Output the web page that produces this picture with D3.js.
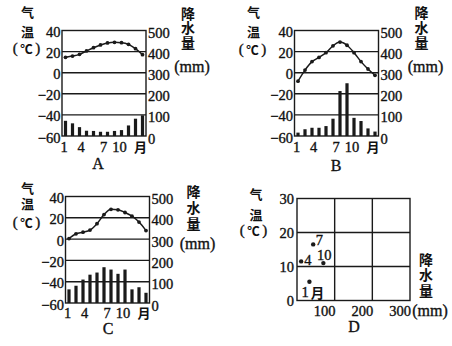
<!DOCTYPE html>
<html><head><meta charset="utf-8">
<script src="https://cdn.jsdelivr.net/npm/d3@7/dist/d3.min.js"></script>
<style>
html,body{margin:0;padding:0;background:#fff;}
svg text{fill:#111;}
.num{font-family:"Liberation Serif","DejaVu Serif",serif;stroke:#111;stroke-width:0.35px;}
.cjk{font-family:"Noto Sans CJK SC","Noto Sans CJK JP",sans-serif;}
</style></head>
<body>
<svg id="c" width="452" height="346"></svg>
<script>
// ---------------- data ----------------
const months = [1,2,3,4,5,6,7,8,9,10,11,12];
const monthTicks = [1,4,7,10,12];
const monthTickLabels = ["1","4","7","10","月"];
const tempTicks = [40,20,0,-20,-40,-60];
const precTicks = [500,400,300,200,100,0];

const tempA = [14.6,15.8,17.4,20.6,23.7,26.3,28.2,28.8,28.5,26.9,22.8,17.1];
const precA = [72,60,42,25,24,20,20,24,28,50,82,98];

const tempB = [-8,2.5,10.5,14.5,19,25.5,29,26,19,10.5,3.5,-2.5];
const precB = [16,32,39,39,47,82,213,250,86,71,36,21];

const tempC = [0.5,5,6.5,8.5,14.5,23,28,27.5,25,21.5,16,8];
const precC = [64,81,110,133,143,168,157,137,157,64,74,48];

const dLabels = ["1月","4","7","10"];
const dPrecip = [33,11,43,70];
const dTemp = [5.5,11.5,16.5,11];
const dXTicks = [100,200,300];
const dYTicks = [0,10,20,30];

// ---------------- layout ----------------
const svg = d3.select("#c");
const INK = "#1a1a1a";
const tickDx = {1:-1.5,4:-5.5,7:-4,10:-9,12:-2};
const NUM = 14.5;

function vtext(g, str, x, yFirst, size, step){
  g.append("text").attr("class","cjk").attr("x",x).attr("y",yFirst - size/2)
    .attr("writing-mode","vertical-rl").attr("text-anchor","start")
    .attr("font-size",size).attr("font-weight",700)
    .attr("letter-spacing",step-size).text(str);
}
function celsius(g, x, y){
  const t = g.append("text").attr("x",x).attr("y",y)
    .attr("text-anchor","middle").attr("dominant-baseline","central");
  t.append("tspan").attr("class","num").attr("font-size",15).text("(");
  t.append("tspan").attr("class","cjk").attr("font-size",12.5).attr("font-weight",700).attr("dx",2.5).text("\u2103");
  t.append("tspan").attr("class","num").attr("font-size",15).attr("dx",2.5).text(")");
}

function climate(p){
  const g = svg.append("g");
  const x = d3.scaleBand().domain(months).range([p.x0,p.x0+p.w]);
  const yT = d3.scaleLinear().domain([-60,40]).range([p.y0+p.h,p.y0]);
  const yP = d3.scaleLinear().domain([0,500]).range([p.y0+p.h,p.y0]);
  const bw = x.bandwidth();
  g.selectAll("rect.bar").data(p.prec).join("rect")
    .attr("x",(d,i)=>x(months[i])+bw/2-1.6).attr("width",3.2)
    .attr("y",d=>yP(d)).attr("height",d=>yP(0)-yP(d)).attr("fill",INK);
  g.selectAll("line.grid").data(tempTicks.slice(1,-1)).join("line")
    .attr("x1",p.x0).attr("x2",p.x0+p.w).attr("y1",d=>yT(d)).attr("y2",d=>yT(d))
    .attr("stroke",INK).attr("stroke-width",1.4);
  g.append("rect").attr("x",p.x0).attr("y",p.y0).attr("width",p.w).attr("height",p.h)
    .attr("fill","none").attr("stroke",INK).attr("stroke-width",1.4);
  const line = d3.line().x((d,i)=>x(months[i])+bw/2).y(d=>yT(d)).curve(d3.curveMonotoneX);
  g.append("path").attr("d",line(p.temp)).attr("fill","none").attr("stroke",INK).attr("stroke-width",1.5);
  g.selectAll("circle").data(p.temp).join("circle")
    .attr("cx",(d,i)=>x(months[i])+bw/2).attr("cy",d=>yT(d)).attr("r",1.9).attr("fill",INK);
  g.selectAll("text.lt").data(tempTicks).join("text").attr("class","num")
    .attr("x",p.x0-1.5).attr("y",d=>yT(d)+1.5).attr("text-anchor","end")
    .attr("dominant-baseline","central").attr("font-size",NUM)
    .text(d=>d<0?"\u2212"+Math.abs(d):d);
  g.selectAll("text.rt").data(precTicks).join("text").attr("class","num")
    .attr("x",p.x0+p.w+2).attr("y",d=>yP(d)+2.5).attr("text-anchor","start")
    .attr("dominant-baseline","central").attr("font-size",NUM).text(d=>d);
  g.selectAll("text.mt").data(monthTicks).join("text")
    .attr("class",(d,i)=>monthTickLabels[i]==="月"?"cjk":"num")
    .attr("x",d=>x(d)+bw/2+tickDx[d]).attr("y",p.y0+p.h+p.mty)
    .attr("text-anchor","middle").attr("dominant-baseline","central")
    .attr("font-size",(d,i)=>monthTickLabels[i]==="月"?13:NUM)
    .attr("font-weight",(d,i)=>monthTickLabels[i]==="月"?700:400)
    .text((d,i)=>monthTickLabels[i]);
  vtext(g,"气温",p.lx,p.ly[0],13,p.ly[1]-p.ly[0]);
  celsius(g,p.lx-1,p.ly[2]);
  vtext(g,"降水量",p.rx,p.ry[0],14,p.ry[1]-p.ry[0]);
  g.append("text").attr("class","num").attr("x",p.rx+4).attr("y",p.ry[2])
    .attr("text-anchor","middle").attr("dominant-baseline","central")
    .attr("font-size",16).text("(mm)");
  g.append("text").attr("class","num").attr("x",p.nx).attr("y",p.ny)
    .attr("text-anchor","middle").attr("dominant-baseline","central")
    .attr("font-size",16).text(p.name);
}

climate({x0:62,y0:30.5,w:84,h:105.5,temp:tempA,prec:precA,name:"A",nx:98,ny:163.5,mty:10.5,
  lx:27.5,ly:[12,32.5,48],rx:188,ry:[13.5,28,66]});
climate({x0:294.5,y0:30.5,w:84,h:105.5,temp:tempB,prec:precB,name:"B",nx:336,ny:165,mty:10.5,
  lx:253.5,ly:[12.5,32.5,48.5],rx:421.5,ry:[12.5,27.5,66]});
climate({x0:65.5,y0:196.5,w:84,h:106.5,temp:tempC,prec:precC,name:"C",nx:108,ny:328,mty:9.5,
  lx:27.5,ly:[188,204.5,222],rx:193.5,ry:[192,208,243]});

// ---------------- panel D ----------------
(function(){
  const g = svg.append("g");
  const x0=297,y0=198.5,w=113,h=102;
  const x = d3.scaleLinear().domain([0,300]).range([x0,x0+w]);
  const y = d3.scaleLinear().domain([0,30]).range([y0+h,y0]);
  g.selectAll("line.vx").data(dXTicks.slice(0,-1)).join("line")
    .attr("x1",d=>x(d)).attr("x2",d=>x(d)).attr("y1",y0).attr("y2",y0+h)
    .attr("stroke",INK).attr("stroke-width",1.4);
  g.selectAll("line.hy").data(dYTicks.slice(1,-1)).join("line")
    .attr("x1",x0).attr("x2",x0+w).attr("y1",d=>y(d)).attr("y2",d=>y(d))
    .attr("stroke",INK).attr("stroke-width",1.4);
  g.append("rect").attr("x",x0).attr("y",y0).attr("width",w).attr("height",h)
    .attr("fill","none").attr("stroke",INK).attr("stroke-width",1.4);
  g.selectAll("text.yt").data(dYTicks).join("text").attr("class","num")
    .attr("x",x0-3).attr("y",d=>y(d)+0.5).attr("text-anchor","end")
    .attr("dominant-baseline","central").attr("font-size",NUM).text(d=>d);
  g.selectAll("text.xt").data(dXTicks).join("text").attr("class","num")
    .attr("x",d=>x(d)-10).attr("y",y0+h+10).attr("text-anchor","middle")
    .attr("dominant-baseline","central").attr("font-size",NUM).text(d=>d);
  g.selectAll("circle").data(dPrecip).join("circle")
    .attr("cx",d=>x(d)).attr("cy",(d,i)=>y(dTemp[i])).attr("r",2.2).attr("fill",INK);
  const off = [[-8,10.5,"start"],[3,-1,"start"],[2.5,-4,"start"],[1,-8,"middle"]];
  dLabels.forEach((t,i)=>{
    const o = off[i];
    const tx = g.append("text").attr("x",x(dPrecip[i])+o[0]).attr("y",y(dTemp[i])+o[1])
      .attr("text-anchor",o[2]).attr("dominant-baseline","central").attr("font-size",NUM);
    if(t.endsWith("月")){
      tx.append("tspan").attr("class","num").text(t.slice(0,-1));
      tx.append("tspan").attr("class","cjk").attr("dx",2).attr("font-size",13.5)
        .attr("font-weight",700).text("月");
    } else tx.attr("class","num").text(t);
  });
  vtext(g,"气温",256,194,13,21);
  celsius(g,253.5,230);
  vtext(g,"降水量",426,259.5,14,15.5);
  g.append("text").attr("class","num").attr("x",430).attr("y",310)
    .attr("text-anchor","middle").attr("dominant-baseline","central")
    .attr("font-size",16).text("(mm)");
  g.append("text").attr("class","num").attr("x",354).attr("y",326)
    .attr("text-anchor","middle").attr("dominant-baseline","central")
    .attr("font-size",16).text("D");
})();
</script>
</body></html>
